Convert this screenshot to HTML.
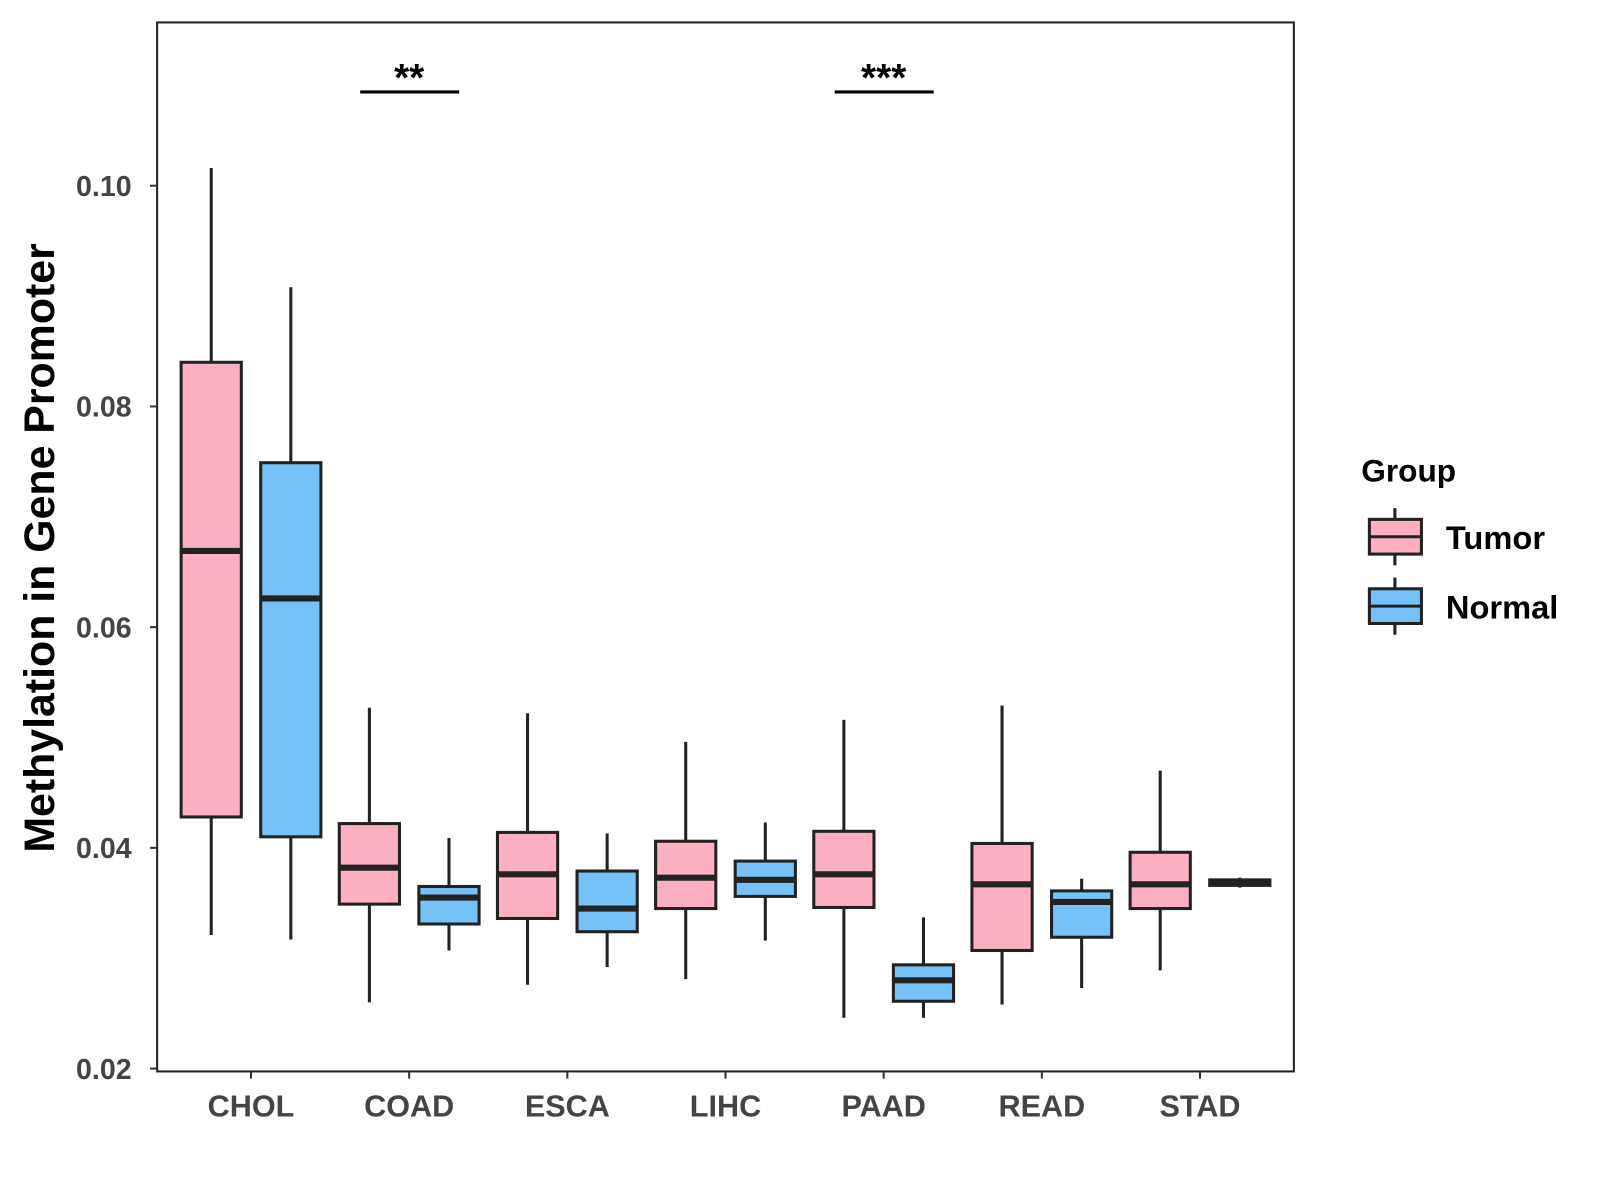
<!DOCTYPE html>
<html><head><meta charset="utf-8"><style>
html,body{margin:0;padding:0;background:#fff;}
svg{display:block;font-family:"Liberation Sans",Arial,sans-serif;font-weight:bold;}
</style></head><body>
<svg id="chart" width="1600" height="1200" viewBox="0 0 1568 1176" xmlns="http://www.w3.org/2000/svg">
<rect x="154" y="22" width="1114" height="1028" fill="#fff" stroke="#222" stroke-width="2"/>
<g id="marks"></g>
<g id="axes"></g>
<text transform="translate(53,537) rotate(-90)" text-anchor="middle" font-size="42" fill="#000">Methylation in Gene Promoter</text>
<g>
<text x="1334" y="472" font-size="31" fill="#000">Group</text>
<g>
<line x1="1367" y1="498" x2="1367" y2="554" stroke="#222" stroke-width="3"/>
<rect x="1342" y="509" width="51" height="34" fill="#FDB0C1" stroke="#222" stroke-width="3"/>
<line x1="1342" y1="526" x2="1393" y2="526" stroke="#222" stroke-width="3"/>
<text x="1417" y="538" font-size="32" fill="#000">Tumor</text>
</g>
<g>
<line x1="1367" y1="566" x2="1367" y2="622" stroke="#222" stroke-width="3"/>
<rect x="1342" y="577" width="51" height="34" fill="#76C1F8" stroke="#222" stroke-width="3"/>
<line x1="1342" y1="594" x2="1393" y2="594" stroke="#222" stroke-width="3"/>
<text x="1417" y="606" font-size="32" fill="#000">Normal</text>
</g>
</g>
</svg>
<script>
const categories = ["CHOL","COAD","ESCA","LIHC","PAAD","READ","STAD"];
const groups = ["Tumor","Normal"];
// [low whisker, Q1, median, Q3, high whisker]
const tumorStats = [
  [0.0321,0.0428,0.0669,0.0840,0.1016],
  [0.0260,0.0349,0.0382,0.0422,0.0527],
  [0.0276,0.0336,0.0376,0.0414,0.0522],
  [0.0281,0.0345,0.0373,0.0406,0.0496],
  [0.0246,0.0346,0.0376,0.0415,0.0516],
  [0.0258,0.0307,0.0367,0.0404,0.0529],
  [0.0289,0.0345,0.0367,0.0396,0.0470]
];
const normalStats = [
  [0.0317,0.0410,0.0626,0.0749,0.0908],
  [0.0307,0.0331,0.0355,0.0365,0.0409],
  [0.0292,0.0324,0.0345,0.0379,0.0413],
  [0.0316,0.0356,0.0371,0.0388,0.0423],
  [0.0246,0.0261,0.0280,0.0294,0.0337],
  [0.0273,0.0319,0.0351,0.0361,0.0372],
  [0.0364,0.0366,0.0368,0.0371,0.0373]
];
const yTicks = [0.02,0.04,0.06,0.08,0.10];
const yTickLabels = ["0.02","0.04","0.06","0.08","0.10"];
const sigCategories = ["COAD","PAAD"];
const sigLabels = ["**","***"];
const sigValue = 0.1085;

const NS="http://www.w3.org/2000/svg";
const y = v => 182 + (0.10 - v) / 0.02 * 216.3;
const x = i => 246 + i * 155;
const fills = ["#FDB0C1","#76C1F8"];
const marks = document.getElementById('marks');
const axes = document.getElementById('axes');
function mk(tag, attrs, parent){
  const e=document.createElementNS(NS,tag);
  for(const k in attrs) e.setAttribute(k,attrs[k]);
  parent.appendChild(e); return e;
}
[tumorStats, normalStats].forEach((stats, gi) => {
  stats.forEach((s, i) => {
    const cx = x(i) + (gi === 0 ? -39 : 39);
    const w = 59;
    const g = mk('g', {}, marks);
    
    
    mk('line', {x1:cx,x2:cx,y1:y(s[4]),y2:y(s[3]),stroke:'#222','stroke-width':3}, g);
    mk('line', {x1:cx,x2:cx,y1:y(s[1]),y2:y(s[0]),stroke:'#222','stroke-width':3}, g);
    mk('rect', {x:cx-w/2,y:y(s[3]),width:w,height:Math.max(y(s[1])-y(s[3]),1),fill:fills[gi],stroke:'#222','stroke-width':3}, g);
    mk('line', {x1:cx-w/2,x2:cx+w/2,y1:y(s[2]),y2:y(s[2]),stroke:'#222','stroke-width':6}, g);
  });
});
yTicks.forEach((t, i) => {
  const g = mk('g', {}, axes);
  
  
  mk('line', {x1:147,x2:154,y1:y(t),y2:y(t),stroke:'#333','stroke-width':2}, g);
  const tx = mk('text', {x:129,y:y(t)+10,'text-anchor':'end','font-size':28,fill:'#444'}, g);
  tx.textContent = yTickLabels[i];
});
categories.forEach((c, i) => {
  const g = mk('g', {}, axes);
  
  
  mk('line', {x1:x(i),x2:x(i),y1:1050,y2:1057,stroke:'#333','stroke-width':2}, g);
  const tx = mk('text', {x:x(i),y:1094,'text-anchor':'middle','font-size':30,fill:'#444'}, g);
  tx.textContent = c;
});
sigCategories.forEach((c, k) => {
  const i = categories.indexOf(c);
  const g = mk('g', {}, marks);
  
  
  mk('line', {x1:x(i)-48,x2:x(i)+49,y1:y(sigValue),y2:y(sigValue),stroke:'#000','stroke-width':3}, g);
  const tx = mk('text', {x:x(i),y:y(sigValue)-1,'text-anchor':'middle','font-size':38,fill:'#000'}, g);
  tx.textContent = sigLabels[k];
});
</script>
</body></html>
